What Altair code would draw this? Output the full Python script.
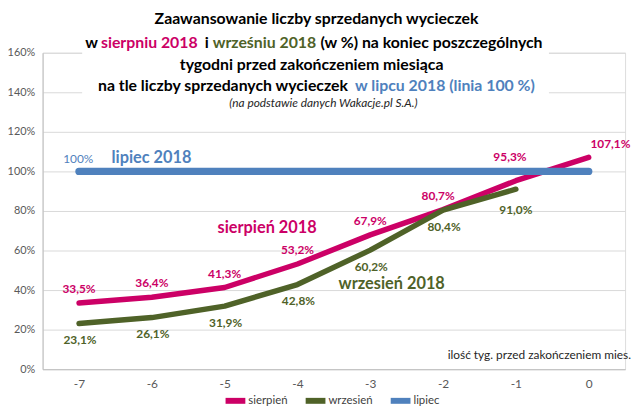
import altair as alt
import pandas as pd

weeks = [-7, -6, -5, -4, -3, -2, -1, 0]
sierpien = [33.5, 36.4, 41.3, 53.2, 67.9, 80.7, 95.3, 107.1]
wrzesien_weeks = [-7, -6, -5, -4, -3, -2, -1]
wrzesien = [23.1, 26.1, 31.9, 42.8, 60.2, 80.4, 91.0]
lipiec = [100, 100, 100, 100, 100, 100, 100, 100]
series_names = ["sierpień", "wrzesień", "lipiec"]
series_colors = ["#CC0066", "#4F6228", "#4F81BD"]
y_ticks = [0, 20, 40, 60, 80, 100, 120, 140, 160]

FONT = "Lato"
MAG, GRN, BLU = series_colors


def fmt(v):
    return f"{v:.1f}".replace(".", ",") + "%"


df_s = pd.DataFrame({"week": weeks, "value": sierpien, "series": "sierpień"})
df_s["label"] = [fmt(v) for v in sierpien]
df_w = pd.DataFrame({"week": wrzesien_weeks, "value": wrzesien, "series": "wrzesień"})
df_w["label"] = [fmt(v) for v in wrzesien]
df_l = pd.DataFrame({"week": weeks, "value": lipiec, "series": "lipiec"})

x = alt.X("week:Q", scale=alt.Scale(domain=[-7.5, 0.5], nice=False, zero=False),
          axis=alt.Axis(values=weeks, labelExpr="'' + datum.value", grid=False, ticks=False,
                        title=None, labelPadding=10, labelFontSize=12, labelColor="#595959",
                        domainColor="#BFBFBF", labelFont=FONT, labelOverlap=False))
y = alt.Y("value:Q", scale=alt.Scale(domain=[0, 160], nice=False),
          axis=alt.Axis(values=y_ticks, labelExpr="datum.value + '%'", title=None, ticks=False,
                        gridColor="#D9D9D9", domainColor="#BFBFBF", labelFontSize=11,
                        labelColor="#595959", labelPadding=8, labelFont=FONT,
                        labelOverlap=False, tickCount=9))
color = alt.Color("series:N", scale=alt.Scale(domain=series_names, range=series_colors),
                  legend=alt.Legend(title=None, orient="none", legendX=182, legendY=339,
                                    direction="horizontal", symbolType="stroke",
                                    symbolStrokeWidth=6, symbolSize=400, labelFontSize=11.5,
                                    labelColor="#404040", labelFont=FONT, columnPadding=6,
                                    symbolOffset=0, labelOffset=0))


def line(df, w):
    return alt.Chart(df).mark_line(strokeWidth=w, strokeCap="round", strokeJoin="round").encode(
        x=x, y=y, color=color)


l_s = line(df_s, 5.5)
l_w = line(df_w, 5.5)
l_l = line(df_l, 7.5)


def labels(df, cond, dx, dy, col):
    return alt.Chart(df).transform_filter(cond).mark_text(
        dx=dx, dy=dy, font=FONT, fontWeight="bold", fontSize=12, color=col).encode(
        x=x, y=y, text="label:N")


lab_s = labels(df_s, "datum.week < -2", 0, -14, MAG)
lab_s2 = labels(df_s, "datum.week == -2", -5, -14, MAG)
lab_s1 = labels(df_s, "datum.week == -1", -6, -24, MAG)
lab_s0 = labels(df_s, "datum.week == 0", 22, -13, MAG)
lab_w = labels(df_w, "datum.week < -1", 1, 17, GRN)
lab_w1 = labels(df_w, "datum.week == -1", 0, 21, GRN)

one = alt.Data(values=[{}])


def txt(t, px, py, size, col, weight="bold", align="center", style="normal"):
    return alt.Chart(one).mark_text(text=t, font=FONT, fontSize=size, color=col,
                                    fontWeight=weight, align=align, baseline="middle",
                                    fontStyle=style).encode(
        x=alt.value(px), y=alt.value(py))


box = alt.Chart(one).mark_rect(color="white").encode(
    x=alt.value(40), x2=alt.value(512), y=alt.value(-51), y2=alt.value(59))

TS = 16
title_layers = [
    box,
    txt("Zaawansowanie liczby sprzedanych wycieczek", 277, -34, TS, "black"),
    txt("w", 43, -10, TS, "black", align="left"),
    txt("sierpniu 2018", 59, -10, TS, MAG, align="left"),
    txt("i", 164, -10, TS, "black", align="left"),
    txt("wrześniu 2018", 172, -10, TS, GRN, align="left"),
    txt("(w %) na koniec poszczególnych", 281, -10, TS, "black", align="left"),
    txt("tygodni przed zakończeniem miesiąca", 272, 12, TS, "black"),
    txt("na tle liczby sprzedanych wycieczek", 56, 34, TS, "black", align="left"),
    txt("w lipcu 2018 (linia 100 %)", 316, 34, TS, BLU, align="left"),
    txt("(na podstawie danych Wakacje.pl S.A.)", 284, 51, 12, "#262626", weight="normal",
        style="italic"),
]

annot = [
    txt("100%", 36, 107, 12, BLU, weight="normal"),
    txt("lipiec 2018", 110, 106, 16.5, BLU),
    txt("sierpień 2018", 227, 177, 16.5, MAG),
    txt("wrzesień 2018", 353, 234, 16.5, GRN),
    txt("ilość tyg. przed zakończeniem mies.", 595, 306, 12, "#262626", weight="normal",
        align="right"),
]

chart = alt.layer(
    l_s, l_w, l_l, lab_s, lab_s2, lab_s1, lab_s0, lab_w, lab_w1, *title_layers, *annot
).properties(
    width=589, height=320,
    padding={"left": 35, "top": 43, "right": 7, "bottom": 36},
    autosize=alt.AutoSizeParams(type="none"),
).configure_view(stroke=None).configure(background="white")

chart.save("out.html", embed_options={"renderer": "svg", "actions": False})
